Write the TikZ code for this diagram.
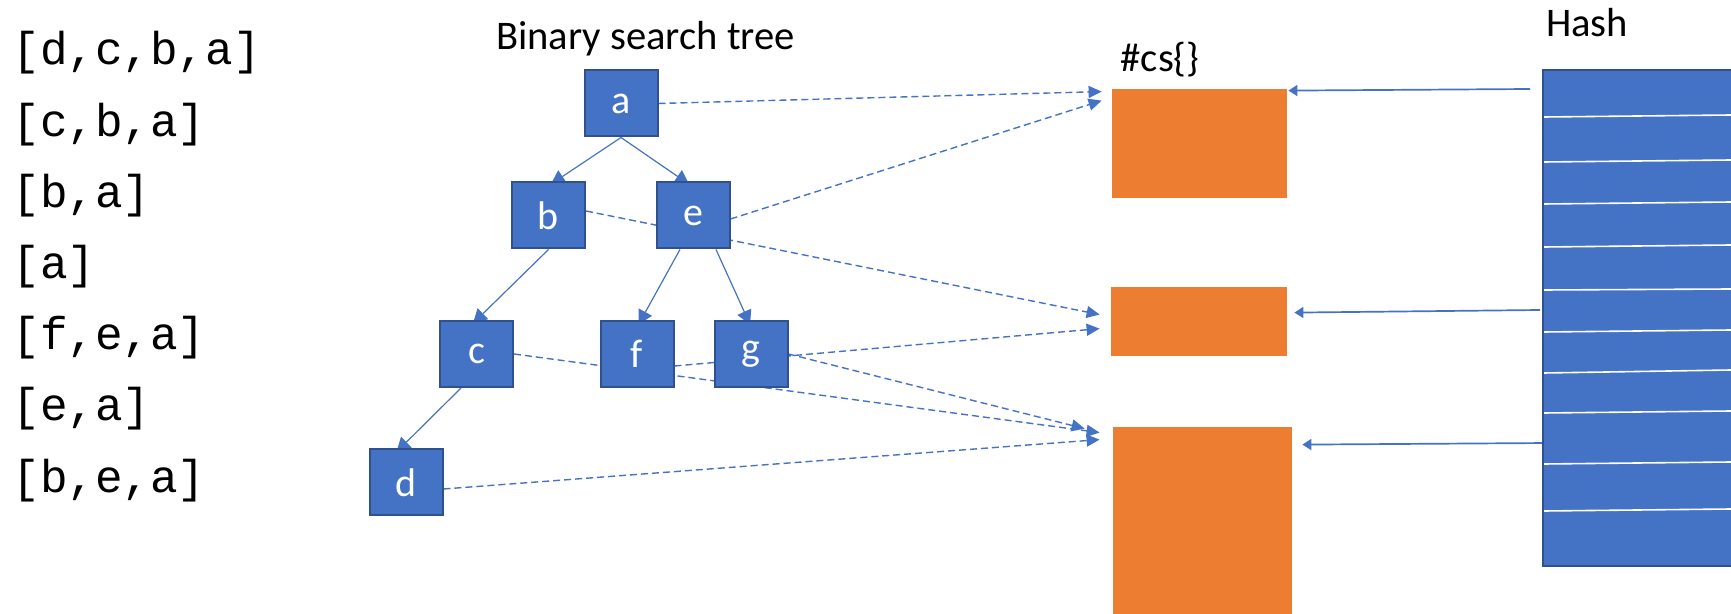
\documentclass[tikz,border=0pt]{standalone}
\usepackage{fontspec}
\setmainfont{Carlito}
\newfontfamily\codefont{Liberation Mono}
\usetikzlibrary{arrows.meta,calc,backgrounds}

\definecolor{nodeblue}{HTML}{4472C4}
\definecolor{nodeedge}{HTML}{2F528F}
\definecolor{boxorange}{HTML}{ED7D31}

\begin{document}
\begin{tikzpicture}[x=0.5pt,y=-0.5pt,
  treenode/.style={draw=nodeedge, line width=1pt, fill=nodeblue, text=white,
    minimum width=36.5pt, minimum height=33pt, inner sep=0pt,
    font=\fontsize{20}{24}\selectfont},
  setbox/.style={fill=boxorange, inner sep=0pt},
  label text/.style={font=\fontsize{20.3}{24}\selectfont, inner sep=0pt, anchor=base},
  code/.style={font=\codefont\fontsize{23}{27}\selectfont, inner sep=0pt, anchor=base west},
  treeedge/.style={draw=nodeblue, line width=0.6pt,
    -{Triangle[length=7pt,width=7.5pt]}, shorten >=-2.5pt},
  link/.style={draw=nodeblue, line width=0.7pt, dash pattern=on 3.5pt off 2pt,
    -{Triangle[length=6.5pt,width=6pt]}},
  hasharrow/.style={draw=nodeblue, line width=0.85pt,
    -{Triangle[length=4.5pt,width=5.5pt]}},
]
\useasboundingbox (0,0) rectangle (1731,614);
\clip (0,0) rectangle (1731,614);

% lists of keys
\node[code] (l1) at (12,65)    {[d,c,b,a]};
\node[code] (l2) at (12,136.2) {[c,b,a]};
\node[code] (l3) at (12,207.4) {[b,a]};
\node[code] (l4) at (12,278.6) {[a]};
\node[code] (l5) at (12,349.8) {[f,e,a]};
\node[code] (l6) at (12,421)   {[e,a]};
\node[code] (l7) at (12,492.2) {[b,e,a]};

% headings
\node[label text] (tbst)  at (645.5,50) {Binary search tree};
\node[label text] (tset)  at (1160,72)  {\#cs\{\}};
\node[label text] (thash) at (1587,37)  {Hash};

% tree
\node[treenode] (a) at (621,103.5) {a};
\node[treenode] (b) at (548.5,215.5) {b};
\node[treenode] (e) at (693,215.5) {e};
\node[treenode] (c) at (476.5,354) {c};
\node[treenode] (f) at (637,354) {f};
\node[treenode] (g) at (751,354) {g};
\node[treenode] (d) at (406,482.5) {d};

% sets
\node[setbox, minimum width=87.5pt, minimum height=54.5pt] (set1) at (1199.5,143.5) {};
\node[setbox, minimum width=88pt, minimum height=34.5pt] (set2) at (1199,321.5) {};
\node[setbox, minimum width=89.5pt, minimum height=96.5pt] (set3) at (1202.5,523.5) {};

% hash table
\node[fill=nodeblue, draw=nodeedge, line width=1pt, inner sep=0pt,
  minimum width=101pt, minimum height=248pt] (hash) at (1644,318) {};
\foreach \yl/\yr in {117/115,162/160,204/202,247/245,290/289,332/330,373/370,413/411,464/462,511/509}
  \draw[white, line width=0.8pt] (1544,\yl) -- (1731,\yr);

\coordinate (h1) at (1530,89);
\coordinate (h2) at (1540,310);
\coordinate (h3) at (1550,443);

\begin{scope}[on background layer]
  % tree edges
  \draw[treeedge] (a.south) -- ($(b.north)+(6.5,0)$);
  \draw[treeedge] (a.south) -- ($(e.north)+(-8,0)$);
  \draw[treeedge] (b.south) -- (c.north);
  \draw[treeedge] ($(e.south)+(-13,0)$) -- ($(f.north)+(4,0)$);
  \draw[treeedge] ($(e.south)+(23,0)$) -- ($(g.north)+(-3,0)$);
  \draw[treeedge] ($(c.south)+(-15.5,0)$) -- ($(d.north)+(-6,0)$);

  % links from tree nodes to sets
  \draw[link] (a.east) -- ($(set1.north west)+(-10,3)$);
  \draw[link] ($(e.east)+(0,3.5)$) -- ($(set1.north west)+(-10,12)$);
  \draw[link] ($(b.east)+(0,-4.5)$) -- ($(set2.north west)+(-11,28)$);
  \draw[link] ($(f.east)+(0,12)$) -- ($(set2.north west)+(-11,42)$);
  \draw[link] (g.east) -- ($(set3.north west)+(-28,2)$);
  \draw[link] (c.east) -- ($(set3.north west)+(-13,6)$);
  \draw[link] ($(d.east)+(0,6.5)$) -- ($(set3.north west)+(-13,13)$);

  % links from hash slots to sets
  \draw[hasharrow] (h1) -- ($(set1.north east)+(1,2)$);
  \draw[hasharrow] (h2) -- ($(set2.north east)+(7,26)$);
  \draw[hasharrow] (h3) -- ($(set3.north east)+(10,18)$);
\end{scope}
\end{tikzpicture}
\end{document}
